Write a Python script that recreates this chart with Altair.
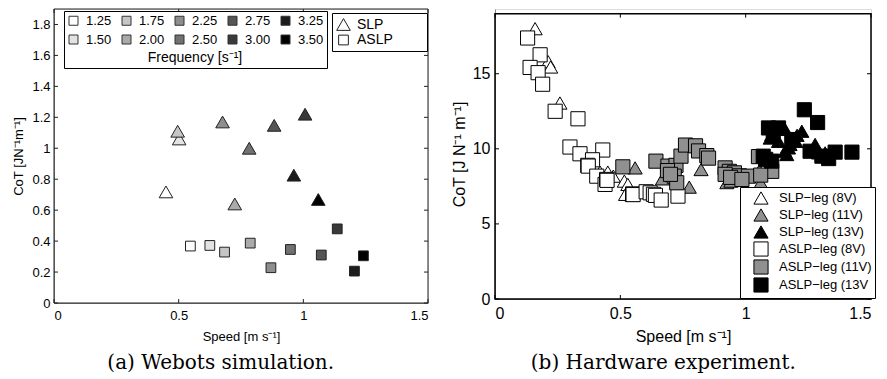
import altair as alt
import pandas as pd

# ---------------- (a) Webots simulation ----------------
FREQS = ["1.25", "1.50", "1.75", "2.00", "2.25", "2.50", "2.75", "3.00", "3.25", "3.50"]
GRAYS = ["#ffffff", "#e3e3e3", "#c6c6c6", "#aaaaaa", "#8e8e8e",
         "#717171", "#555555", "#393939", "#1c1c1c", "#000000"]
SIM_SLP_SPEED = [0.449, 0.502, 0.496, 0.725, 0.676, 0.783, 0.883, 1.007, 0.962, 1.060]
SIM_SLP_COT = [0.718, 1.060, 1.110, 0.640, 1.170, 1.000, 1.148, 1.220, 0.826, 0.669]
SIM_ASLP_SPEED = [0.547, 0.625, 0.684, 0.787, 0.870, 0.948, 1.072, 1.136, 1.205, 1.241]
SIM_ASLP_COT = [0.368, 0.372, 0.329, 0.387, 0.228, 0.346, 0.310, 0.479, 0.206, 0.305]
SIM_TYPES = ["SLP", "ASLP"]

# ---------------- (b) Hardware experiment ----------------
SERIES = ["SLP\u2212leg (8V)", "SLP\u2212leg (11V)", "SLP\u2212leg (13V)",
          "ASLP\u2212leg (8V)", "ASLP\u2212leg (11V)", "ASLP\u2212leg (13V"]
SER_FILL = ["#ffffff", "#909090", "#000000", "#ffffff", "#909090", "#000000"]
SER_SHAPE = ["triangle-up", "triangle-up", "triangle-up", "square", "square", "square"]
SER_SIZE = [200, 200, 200, 110, 110, 110]

SLP8_SPEED = [0.160, 0.212, 0.222, 0.259, 0.419, 0.450, 0.472, 0.516, 0.530, 0.521, 0.548]
SLP8_COT = [18.0, 15.8, 15.45, 13.05, 8.45, 8.45, 8.18, 7.85, 7.63, 6.97, 6.9]
SLP11_SPEED = [0.559, 0.668, 0.775, 0.822, 0.925, 0.941, 1.055, 1.060]
SLP11_COT = [8.73, 8.0, 7.45, 8.62, 7.75, 7.85, 8.55, 7.74]
SLP13_SPEED = [1.098, 1.131, 1.157, 1.104, 1.171, 1.164, 1.224, 1.205, 1.277, 1.291,
               1.317, 1.157, 1.177, 1.200]
SLP13_COT = [10.72, 10.5, 11.3, 10.95, 10.06, 9.62, 11.17, 10.9, 10.29, 9.73,
             9.73, 9.84, 10.29, 10.5]
ASLP8_SPEED = [0.130, 0.180, 0.140, 0.172, 0.190, 0.240, 0.331, 0.299, 0.339, 0.430,
               0.389, 0.370, 0.372, 0.406, 0.439, 0.445, 0.447, 0.549, 0.551, 0.603,
               0.619, 0.632, 0.640, 0.663, 0.730]
ASLP8_COT = [17.38, 16.26, 15.42, 15.07, 14.3, 12.5, 12.0, 10.12, 9.67, 9.92,
             9.27, 8.9, 8.85, 8.18, 7.63, 7.96, 7.9, 7.0, 6.95, 7.14,
             7.07, 6.97, 6.9, 6.59, 6.85]
ASLP11_SPEED = [0.510, 0.642, 0.690, 0.722, 0.742, 0.760, 0.800, 0.812, 0.845, 0.852,
                0.688, 0.715, 0.725, 0.700, 0.918, 0.935, 0.955, 0.975, 1.011, 0.918,
                0.940, 0.985, 1.051, 1.104, 1.060]
ASLP11_COT = [8.8, 9.18, 8.85, 8.9, 9.51, 10.25, 10.2, 9.86, 9.55, 9.38,
              8.55, 8.18, 7.74, 8.3, 8.73, 8.5, 8.4, 8.2, 8.18, 8.3,
              8.1, 7.96, 9.48, 8.5, 8.25]
ASLP13_SPEED = [1.234, 1.287, 1.424, 1.357, 1.331, 1.304, 1.091, 1.131, 1.070, 1.104,
                1.184, 1.257, 1.110, 1.080]
ASLP13_COT = [12.6, 11.75, 9.78, 9.78, 9.35, 9.51, 11.39, 11.39, 9.51, 9.18,
              10.62, 9.84, 11.2, 9.3]

X_TICKS = [0, 0.5, 1, 1.5]
YA_TICKS = [0, 0.2, 0.4, 0.6, 0.8, 1, 1.2, 1.4, 1.6, 1.8]
YB_TICKS = [0, 5, 10, 15]
X_DOMAIN = [0, 1.5]
YA_DOMAIN = [0, 1.9]
YB_FRAME_TOP = 19
YB_DOMAIN = [0, 19.31]

SANS = "Liberation Sans"
SERIF = "DejaVu Serif"

# ---------- build tables ----------
sim_df = pd.DataFrame({
    "speed": SIM_SLP_SPEED + SIM_ASLP_SPEED,
    "cot": SIM_SLP_COT + SIM_ASLP_COT,
    "freq": FREQS + FREQS,
    "leg": [SIM_TYPES[0]] * len(FREQS) + [SIM_TYPES[1]] * len(FREQS),
})

hw_speed = [SLP8_SPEED, SLP11_SPEED, SLP13_SPEED, ASLP8_SPEED, ASLP11_SPEED, ASLP13_SPEED]
hw_cot = [SLP8_COT, SLP11_COT, SLP13_COT, ASLP8_COT, ASLP11_COT, ASLP13_COT]
rows = []
for i, (sp, ct) in enumerate(zip(hw_speed, hw_cot)):
    for s, c in zip(sp, ct):
        rows.append({"speed": s, "cot": c, "ser": SERIES[i], "ord": i})
hw_df = pd.DataFrame(rows)


def frame_and_ticks(sx, sy, ax, ay, y_top, y_ticks, color, sw):
    one = alt.Data(values=[{"k": 0}])
    frame = alt.Chart(one).mark_rect(filled=False, stroke=color, strokeWidth=sw).encode(
        x=alt.XDatum(X_DOMAIN[0], scale=sx, axis=ax),
        x2=alt.X2Datum(X_DOMAIN[1]),
        y=alt.YDatum(0, scale=sy, axis=ay),
        y2=alt.Y2Datum(y_top),
    )
    xt = alt.Data(values=[{"speed": v} for v in X_TICKS])
    yt = alt.Data(values=[{"cot": v} for v in y_ticks])
    bottom = alt.Chart(xt).mark_rule(color=color, strokeWidth=1, y2Offset=-4).encode(
        x=alt.X("speed:Q", scale=sx, axis=ax),
        y=alt.YDatum(0, scale=sy, axis=ay), y2=alt.Y2Datum(0))
    top = alt.Chart(xt).mark_rule(color=color, strokeWidth=1, y2Offset=4).encode(
        x=alt.X("speed:Q", scale=sx, axis=ax),
        y=alt.YDatum(y_top, scale=sy, axis=ay), y2=alt.Y2Datum(y_top))
    left = alt.Chart(yt).mark_rule(color=color, strokeWidth=1, x2Offset=4).encode(
        y=alt.Y("cot:Q", scale=sy, axis=ay),
        x=alt.XDatum(X_DOMAIN[0], scale=sx, axis=ax), x2=alt.X2Datum(X_DOMAIN[0]))
    right = alt.Chart(yt).mark_rule(color=color, strokeWidth=1, x2Offset=-4).encode(
        y=alt.Y("cot:Q", scale=sy, axis=ay),
        x=alt.XDatum(X_DOMAIN[1], scale=sx, axis=ax), x2=alt.X2Datum(X_DOMAIN[1]))
    return [frame, bottom, top, left, right]


# ---------- panel (a) ----------
sxa = alt.Scale(domain=X_DOMAIN, nice=False, zero=False)
sya = alt.Scale(domain=YA_DOMAIN, nice=False, zero=False)
axa_x = alt.Axis(values=X_TICKS, format="~g", title="Speed [m s\u207b\u00b9]",
                 labelFontSize=13, labelPadding=6, titleFontSize=13, titlePadding=8,
                 titleFontWeight="normal", tickSize=0)
axa_y = alt.Axis(values=YA_TICKS, format="~g", title="CoT [JN\u207b\u00b9m\u207b\u00b9]",
                 labelFontSize=13, labelPadding=4, titleFontSize=13, titlePadding=6,
                 titleFontWeight="normal", tickSize=0)

shape_leg_a = alt.Legend(
    title="\u00a0", titleOrient="right", titlePadding=30, titleFontSize=10,
    orient="none", legendX=278, legendY=4, padding=4,
    strokeColor="black", fillColor="white", labelFontSize=14, labelFont=SANS,
    labelOffset=6, rowPadding=-1, symbolFillColor="white", symbolStrokeColor="black",
    symbolStrokeWidth=1,
)
pts_a = alt.Chart(sim_df).mark_point(filled=True, strokeWidth=1, opacity=1).encode(
    x=alt.X("speed:Q", scale=sxa, axis=axa_x),
    y=alt.Y("cot:Q", scale=sya, axis=axa_y),
    fill=alt.Fill("freq:N", scale=alt.Scale(domain=FREQS, range=GRAYS),
                  legend=alt.Legend(
                      title="Frequency [s\u207b\u00b9]", titleOrient="bottom", titleAnchor="middle",
                      titleFontSize=14, titleFont=SANS, titleFontWeight="normal", titlePadding=4,
                      columns=5, columnPadding=8, rowPadding=5, symbolType="square",
                      symbolSize=81, symbolStrokeColor="#333333", symbolStrokeWidth=1,
                      labelFontSize=13, labelFont=SANS, labelOffset=6,
                      orient="none", legendX=10, legendY=2, strokeColor="black",
                      fillColor="white", padding=3)),
    shape=alt.Shape("leg:N", scale=alt.Scale(domain=SIM_TYPES, range=["triangle-up", "square"]),
                    legend=shape_leg_a),
    size=alt.Size("leg:N", scale=alt.Scale(domain=SIM_TYPES, range=[185, 95]), legend=shape_leg_a),
    stroke=alt.Stroke("leg:N", scale=alt.Scale(domain=SIM_TYPES, range=["#222222", "#222222"]),
                      legend=shape_leg_a),
)
panel_a = alt.layer(*frame_and_ticks(sxa, sya, axa_x, axa_y, YA_DOMAIN[1], YA_TICKS, "#222222", 1),
                    pts_a).properties(
    width=374, height=294,
    title=alt.TitleParams("(a) Webots simulation.", orient="bottom", anchor="middle",
                          frame="bounds", font=SERIF, fontSize=20, fontWeight="normal",
                          offset=10, color="black"))

# ---------- panel (b) ----------
sxb = alt.Scale(domain=X_DOMAIN, nice=False, zero=False)
syb = alt.Scale(domain=YB_DOMAIN, nice=False, zero=False)
axb_x = alt.Axis(values=X_TICKS, format="~g", title="Speed [m s\u207b\u00b9]",
                 labelFontSize=16, labelPadding=6, titleFontSize=16, titlePadding=7,
                 titleFontWeight="normal", tickSize=0)
axb_y = alt.Axis(values=YB_TICKS, format="~g", title="CoT [J N\u207b\u00b9 m\u207b\u00b9]",
                 labelFontSize=16, labelPadding=5, titleFontSize=16, titlePadding=5,
                 titleFontWeight="normal", tickSize=0)
leg_b = alt.Legend(
    title=None, orient="none", legendX=245, legendY=178, padding=3,
    strokeColor="black", fillColor="white", labelFontSize=13, labelFont=SANS,
    labelOffset=10, rowPadding=-4, symbolOffset=10, symbolStrokeColor="black",
    symbolStrokeWidth=1,
)
pts_b = alt.Chart(hw_df).mark_point(filled=True, strokeWidth=1, opacity=1).encode(
    x=alt.X("speed:Q", scale=sxb, axis=axb_x),
    y=alt.Y("cot:Q", scale=syb, axis=axb_y),
    fill=alt.Fill("ser:N", scale=alt.Scale(domain=SERIES, range=SER_FILL), legend=leg_b),
    shape=alt.Shape("ser:N", scale=alt.Scale(domain=SERIES, range=SER_SHAPE), legend=leg_b),
    size=alt.Size("ser:N", scale=alt.Scale(domain=SERIES, range=SER_SIZE), legend=leg_b),
    stroke=alt.Stroke("ser:N", scale=alt.Scale(domain=SERIES, range=["black"] * 6), legend=leg_b),
    order=alt.Order("ord:Q"),
)
panel_b = alt.layer(*frame_and_ticks(sxb, syb, axb_x, axb_y, YB_FRAME_TOP, YB_TICKS, "black", 1.5),
                    pts_b).properties(
    width=376, height=290,
    title=alt.TitleParams("(b) Hardware experiment.", orient="bottom", anchor="middle",
                          frame="bounds", font=SERIF, fontSize=20, fontWeight="normal",
                          offset=9, color="black"))

chart = alt.hconcat(panel_a, panel_b, spacing=21).resolve_scale(
    fill="independent", shape="independent", size="independent", stroke="independent"
).properties(
    padding={"left": 4, "top": 0, "right": 0, "bottom": 0}
).configure_view(strokeWidth=0).configure_axis(
    labelFont=SANS, titleFont=SANS, labelColor="black", titleColor="black",
    titleFontWeight="normal", domain=False, ticks=False, grid=False,
    labelFlush=False, labelOverlap=False, tickSize=0
).configure(background="white")

chart.save("out.html", embed_options={"renderer": "svg", "actions": False})
